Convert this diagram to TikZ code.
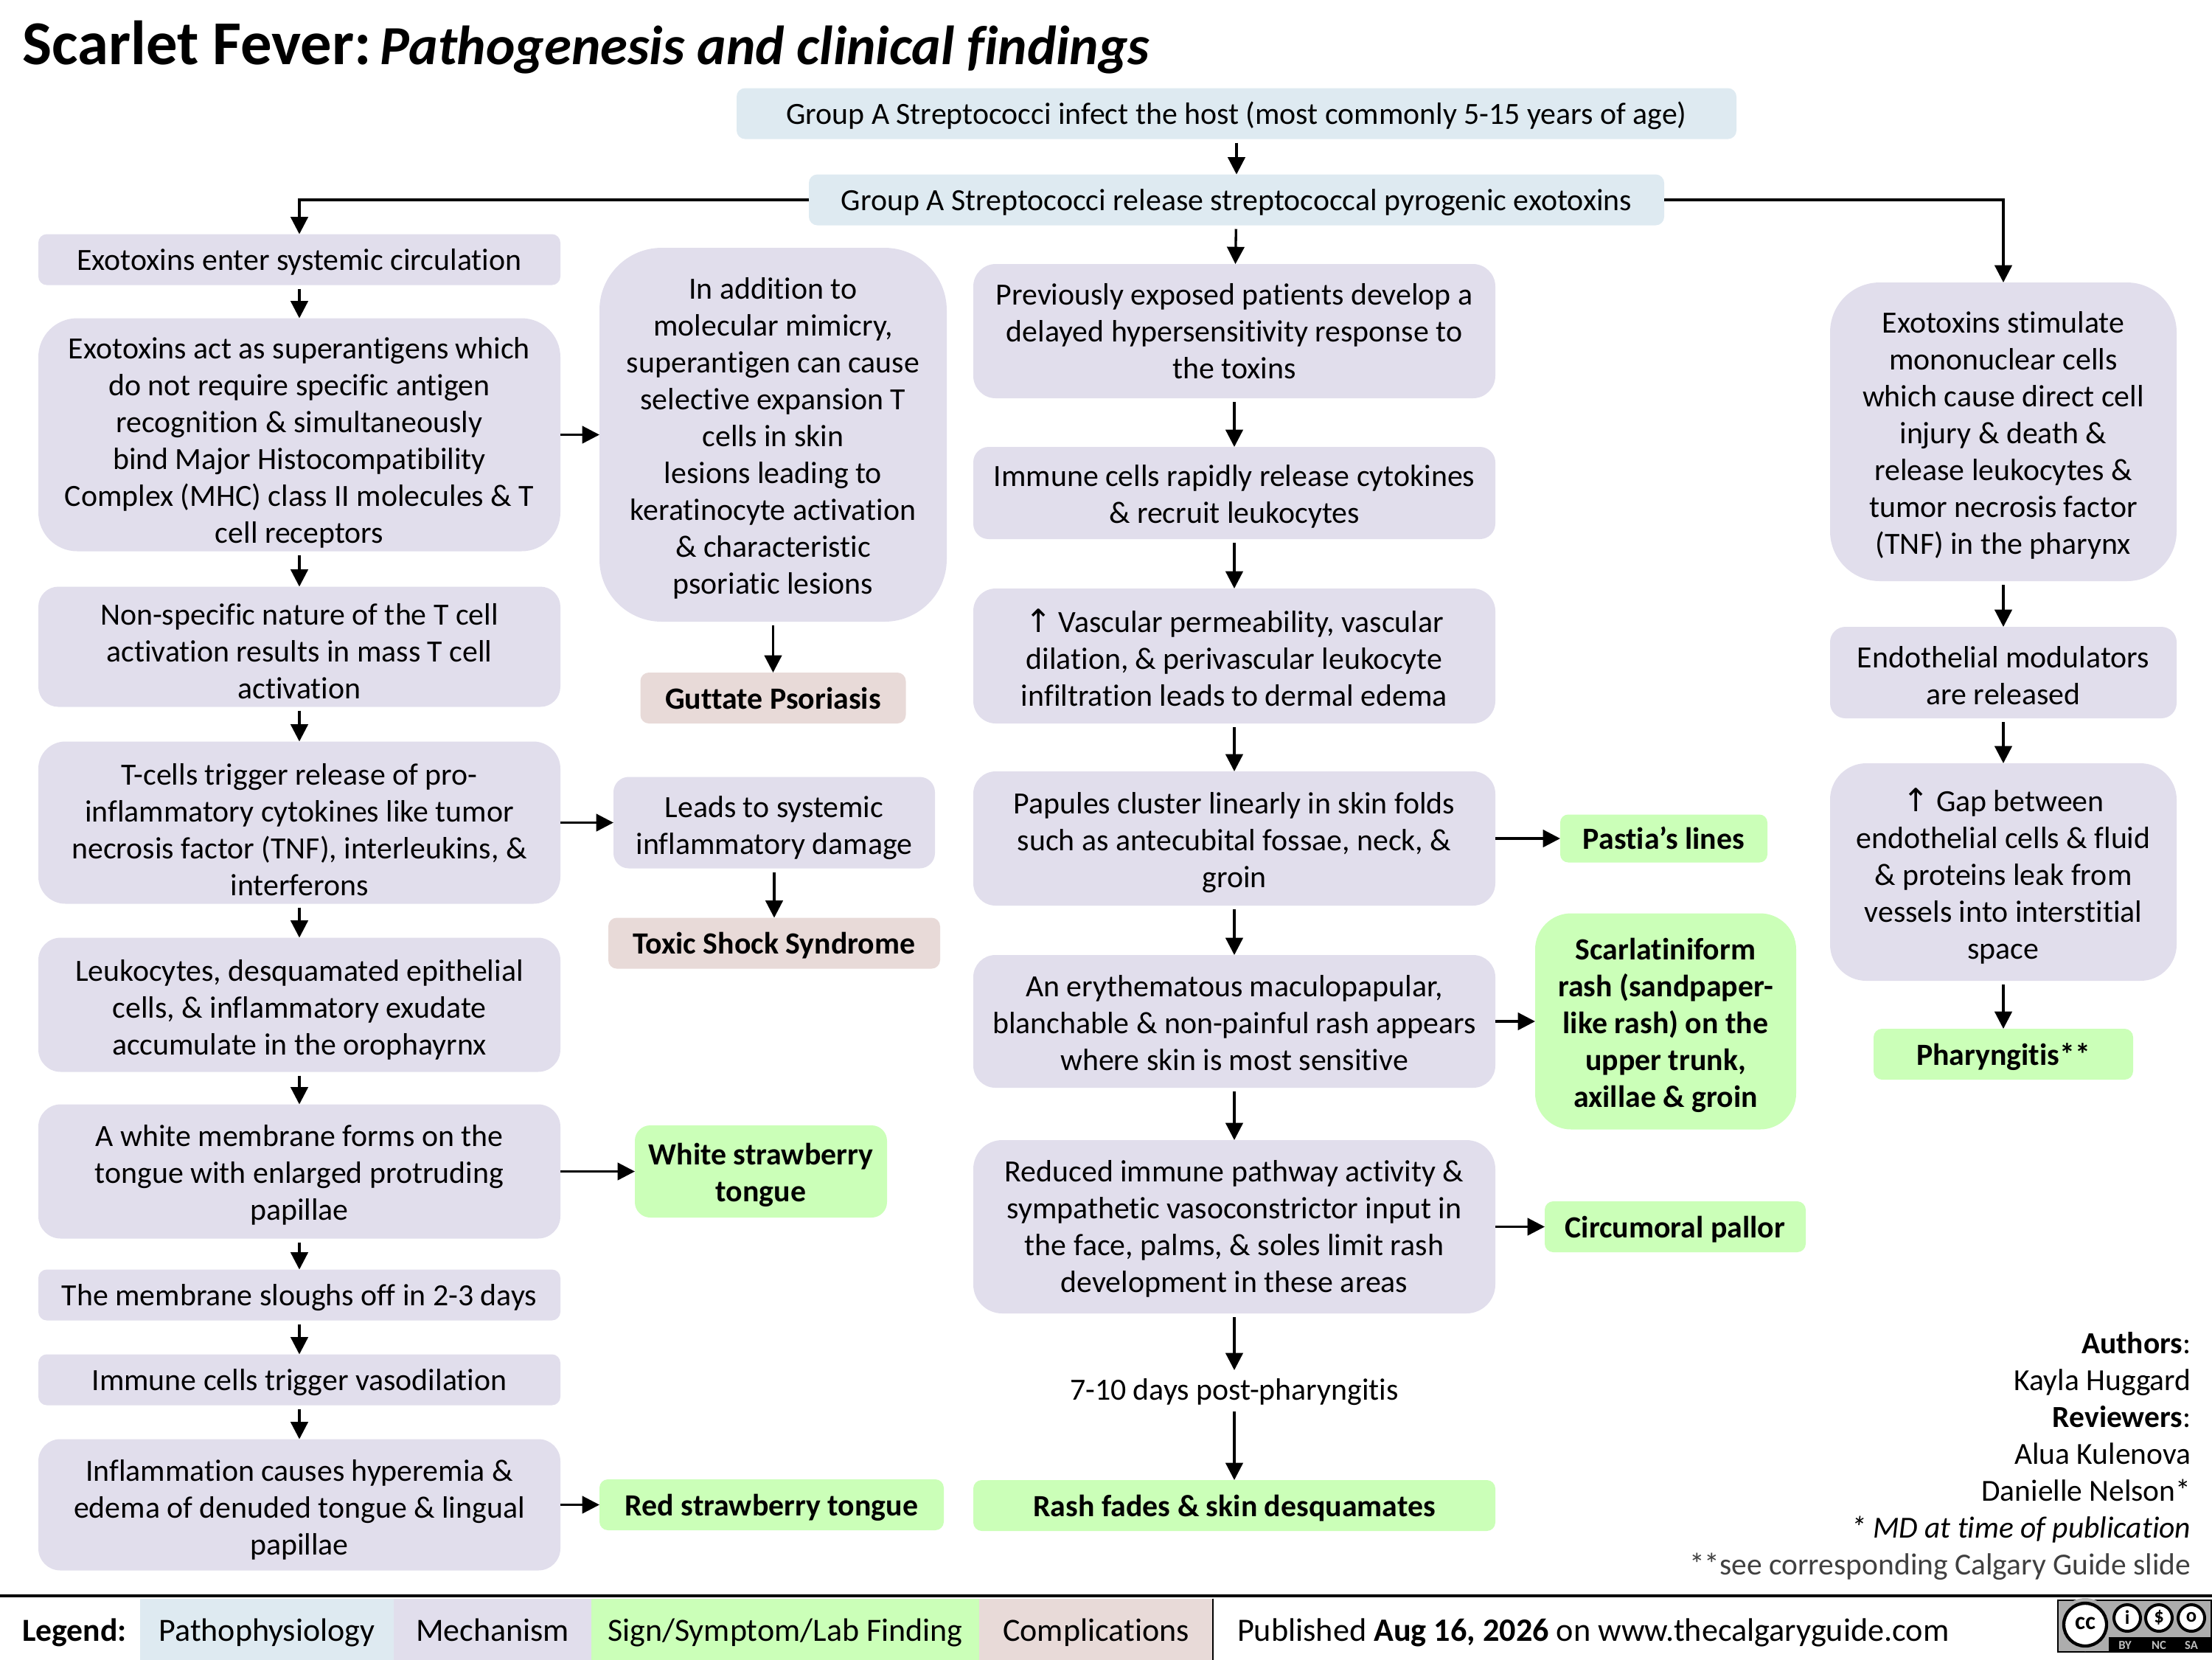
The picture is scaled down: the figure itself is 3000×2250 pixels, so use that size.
\documentclass[tikz,border=0pt]{standalone}
\usepackage{fontspec}
\setmainfont{Carlito}[Ligatures=NoCommon]
\newfontfamily\arrowfont{DejaVu Sans}
\usetikzlibrary{arrows.meta,positioning}
\definecolor{pathoblue}{HTML}{DEEAF1}
\definecolor{mechlilac}{HTML}{E1DEEC}
\definecolor{signgreen}{HTML}{CBFFB8}
\definecolor{complrose}{HTML}{E8DAD8}
\newcommand{\uparr}{{\arrowfont\fontsize{13}{15}\selectfont ↑}}
\newcommand{\topgap}[1]{\rule{0pt}{#1pt}}

\begin{document}
\begin{tikzpicture}[x=.3pt,y=-.3pt,>={Triangle[length=7pt,width=7pt]}]
  \tikzstyle{basebox}=[inner sep=0pt,outer sep=0pt,align=center,font=\fontsize{12.55}{15}\selectfont,
    execute at begin node={\rule{0pt}{12pt}},execute at end node={\rule[-3.3pt]{0pt}{0pt}}]
  \tikzstyle{high}=[minimum height=#1pt,rounded corners=0.1667*#1pt]
  \tikzstyle{keytext}=[font=\fontsize{12.55}{15}\selectfont\bfseries]
  \tikzstyle{pathobox}=[basebox,fill=pathoblue,high=20.7]
  \tikzstyle{mechbox}=[basebox,fill=mechlilac]
  \tikzstyle{wide}=[minimum width=212.4pt]
  \tikzstyle{signbox}=[basebox,keytext,fill=signgreen]
  \tikzstyle{complbox}=[basebox,keytext,fill=complrose,high=20.7]
  \tikzstyle{legbox}=[inner sep=0pt,outer sep=0pt,minimum height=24.9pt,font=\fontsize{13.2}{15}\selectfont,
    execute at begin node={\rule{0pt}{13pt}},execute at end node={\rule[-3pt]{0pt}{0pt}}]
  \tikzstyle{flow}=[->,line width=1pt,shorten <=1.5pt]

  \useasboundingbox (0,0) rectangle (3000,2250);

  \node[anchor=west,inner sep=0pt] (title) at (30,64) {\fontsize{25.4}{30}\selectfont\bfseries Scarlet Fever:\kern3.5pt{\fontsize{22.45}{30}\selectfont\itshape Pathogenesis and clinical findings}};

  % top of the chart
  \node[pathobox,minimum width=406.8pt] (infect) at (1677,154) {Group A Streptococci infect the host (most commonly 5-15 years of age)};
  \node[pathobox,minimum width=348pt,below=14.4pt of infect] (release) {Group A Streptococci release streptococcal pyrogenic exotoxins};

  % left column
  \node[mechbox,wide,high=20.7] (enter) at (406,352) {Exotoxins enter systemic circulation};
  \node[mechbox,wide,high=94.8,below=13.5pt of enter] (superag) {\topgap{16.4}Exotoxins act as superantigens which\\do not require specific antigen\\recognition \& simultaneously\\bind Major Histocompatibility\\Complex (MHC) class II molecules \& T\\cell receptors};
  \node[mechbox,wide,high=48.9,below=14.4pt of superag] (massT) {\topgap{15.5}Non-specific nature of the T cell\\activation results in mass T cell\\activation};
  \node[mechbox,wide,high=66,below=14.1pt of massT] (cytok) {\topgap{17.5}T-cells trigger release of pro-\\inflammatory cytokines like tumor\\necrosis factor (TNF), interleukins, \&\\interferons};
  \node[mechbox,wide,high=54.6,below=13.8pt of cytok] (leuko) {\topgap{14.1}Leukocytes, desquamated epithelial\\cells, \& inflammatory exudate\\accumulate in the orophayrnx};
  \node[mechbox,wide,high=54.6,below=13.2pt of leuko] (membr) {\topgap{13}A white membrane forms on the\\tongue with enlarged protruding\\papillae};
  \node[mechbox,wide,high=20.7,below=12.6pt of membr] (slough) {The membrane sloughs off in 2-3 days};
  \node[mechbox,wide,high=20.7,below=13.8pt of slough] (vasod) {Immune cells trigger vasodilation};
  \node[mechbox,wide,high=53.4,below=13.8pt of vasod] (hyper) {\topgap{14.1}Inflammation causes hyperemia \&\\edema of denuded tongue \& lingual\\papillae};

  % second column
  \node[mechbox,minimum width=141.3pt,high=152.1,right=15.9pt of superag] (mimicry) {\topgap{13}In addition to\\molecular mimicry,\\superantigen can cause\\selective expansion T\\cells in skin\\lesions leading to\\keratinocyte activation\\\& characteristic\\psoriatic lesions};
  \node[complbox,minimum width=108pt,below=20.7pt of mimicry] (guttate) {Guttate Psoriasis};
  \node[mechbox,minimum width=130.8pt,high=37.2,right=21.6pt of cytok] (damage) {\topgap{14.1}Leads to systemic\\inflammatory damage};
  \node[complbox,minimum width=135pt,below=20.1pt of damage] (toxic) {Toxic Shock Syndrome};
  \node[signbox,minimum width=102.6pt,high=37.5,right=30.3pt of membr] (whitest) {\topgap{13}White strawberry\\tongue};
  \node[signbox,minimum width=140.1pt,high=20.7,right=15.9pt of hyper] (redst) {Red strawberry tongue};

  % third column
  \node[mechbox,wide,high=54.6] (hypers) at (1674,449) {\topgap{11.8}Previously exposed patients develop a\\delayed hypersensitivity response to\\the toxins};
  \node[mechbox,wide,high=37.5,below=19.8pt of hypers] (rapid) {\topgap{13}Immune cells rapidly release cytokines\\\& recruit leukocytes};
  \node[mechbox,wide,high=54.9,below=20.1pt of rapid] (vascu) {\topgap{14.1}\uparr{} Vascular permeability, vascular\\dilation, \& perivascular leukocyte\\infiltration leads to dermal edema};
  \node[mechbox,wide,high=54.6,below=19.5pt of vascu] (papul) {\topgap{13}Papules cluster linearly in skin folds\\such as antecubital fossae, neck, \&\\groin};
  \node[mechbox,wide,high=54,below=20.1pt of papul] (eryth) {\topgap{13}An erythematous maculopapular,\\blanchable \& non-painful rash appears\\where skin is most sensitive};
  \node[mechbox,wide,high=70.5,below=21.3pt of eryth] (reduced) {\topgap{11.8}Reduced immune pathway activity \&\\sympathetic vasoconstrictor input in\\the face, palms, \& soles limit rash\\development in these areas};
  \node[basebox,minimum height=15.3pt,below=23.1pt of reduced] (days) {7-10 days post-pharyngitis};
  \node[signbox,wide,high=20.7,below=29.4pt of days] (fades) {Rash fades \& skin desquamates};

  % findings beside third column
  \node[signbox,minimum width=84.3pt,high=19.5,right=26.4pt of papul] (pastia) {Pastia’s lines};
  \node[signbox,minimum width=106.2pt,high=87.9,right=16.2pt of eryth] (scarl) {\topgap{13}Scarlatiniform\\rash (sandpaper-\\like rash) on the\\upper trunk,\\axillae \& groin};
  \node[signbox,minimum width=106.2pt,high=20.7,right=20.1pt of reduced] (pallor) {Circumoral pallor};

  % right column
  \node[mechbox,minimum width=141pt,high=121.5] (stim) at (2717,585.5) {\topgap{13}Exotoxins stimulate\\mononuclear cells\\which cause direct cell\\injury \& death \&\\release leukocytes \&\\tumor necrosis factor\\(TNF) in the pharynx};
  \node[mechbox,minimum width=141pt,high=37.2,below=18.6pt of stim] (modul) {\topgap{14.1}Endothelial modulators\\are released};
  \node[mechbox,minimum width=141pt,high=88.5,below=18.3pt of modul] (gap) {\topgap{14.1}\uparr{} Gap between\\endothelial cells \& fluid\\\& proteins leak from\\vessels into interstitial\\space};
  \node[signbox,minimum width=105.6pt,high=20.7,below=19.5pt of gap] (phary) {Pharyngitis**};

  % arrows
  \draw[flow] (infect) -- (release);
  \draw[flow] (release) -- (hypers);
  \draw[->,line width=1pt] (release.west) -| (enter.north);
  \draw[->,line width=1pt] (release.east) -| (stim.north);
  \foreach \from/\to in {enter/superag,superag/massT,massT/cytok,cytok/leuko,leuko/membr,membr/slough,slough/vasod,vasod/hyper,%
    mimicry/guttate,damage/toxic,hypers/rapid,rapid/vascu,vascu/papul,papul/eryth,eryth/reduced,reduced/days,days/fades,%
    stim/modul,modul/gap,gap/phary}
    \draw[flow] (\from) -- (\to);
  \foreach \from/\to in {superag/mimicry,cytok/damage,membr/whitest,hyper/redst,papul/pastia,eryth/scarl,reduced/pallor}
    \draw[flow,shorten <=0pt] (\from) -- (\to);

  % authors
  \node[anchor=north east,inner sep=0pt,align=right,font=\fontsize{12.45}{15}\selectfont] (credits) at (2972,1806) {\textbf{Authors}:\\Kayla Huggard\\\textbf{Reviewers}:\\Alua Kulenova\\Danielle Nelson*\\\textit{* MD at time of publication}\\\textcolor{black!75}{**see corresponding Calgary Guide slide}};

  % legend
  \coordinate (ruleL) at (0,2164);
  \coordinate (ruleR) at (3000,2164);
  \draw[line width=1.3pt] (ruleL) -- (ruleR);
  \node[legbox,anchor=west,font=\fontsize{13.1}{15}\selectfont\bfseries] (leghead) at (30,2209) {Legend:};
  \node[legbox,fill=pathoblue,minimum width=103.2pt] (legpatho) at (362,2209) {Pathophysiology};
  \node[legbox,fill=mechlilac,minimum width=80.4pt,right=0pt of legpatho] (legmech) {Mechanism};
  \node[legbox,fill=signgreen,minimum width=157.8pt,right=0pt of legmech] (legsign) {Sign/Symptom/Lab Finding};
  \node[legbox,fill=complrose,minimum width=95.1pt,right=0pt of legsign] (legcompl) {Complications};
  \draw[line width=.6pt] (legcompl.north east) -- (legcompl.south east);
  \node[legbox,anchor=west,font=\fontsize{13.27}{15}\selectfont] (publ) at (1678,2209) {Published \textbf{Aug 16, 2026} on www.thecalgaryguide.com};

  % licence badge
  \fill[black!32,draw=black,line width=.8pt] (2791,2170) rectangle (2999,2240);
  \fill[black] (2860,2220) rectangle (3000,2241);
  \fill[black!32] (2828,2203) circle[radius=36];
  \draw[line width=1.3pt,fill=white] (2828,2203) circle[radius=29];
  \node[inner sep=0pt,font=\fontsize{10}{10}\selectfont\bfseries] (ccmark) at (2828,2201) {cc};
  \foreach \cx/\lab in {2885/i,2928/\$,2972/o}{
    \draw[line width=1.2pt,fill=white] (\cx,2194) circle[radius=18];
    \node[inner sep=0pt,font=\fontsize{8}{8}\selectfont\bfseries] (mark\cx) at (\cx,2193) {\lab};
  }
  \foreach \cx/\lab in {2882/BY,2928/NC,2972/SA}
    \node[text=black!25,inner sep=0pt,font=\fontsize{5}{5}\selectfont\bfseries] (tag\cx) at (\cx,2231) {\lab};
\end{tikzpicture}
\end{document}
